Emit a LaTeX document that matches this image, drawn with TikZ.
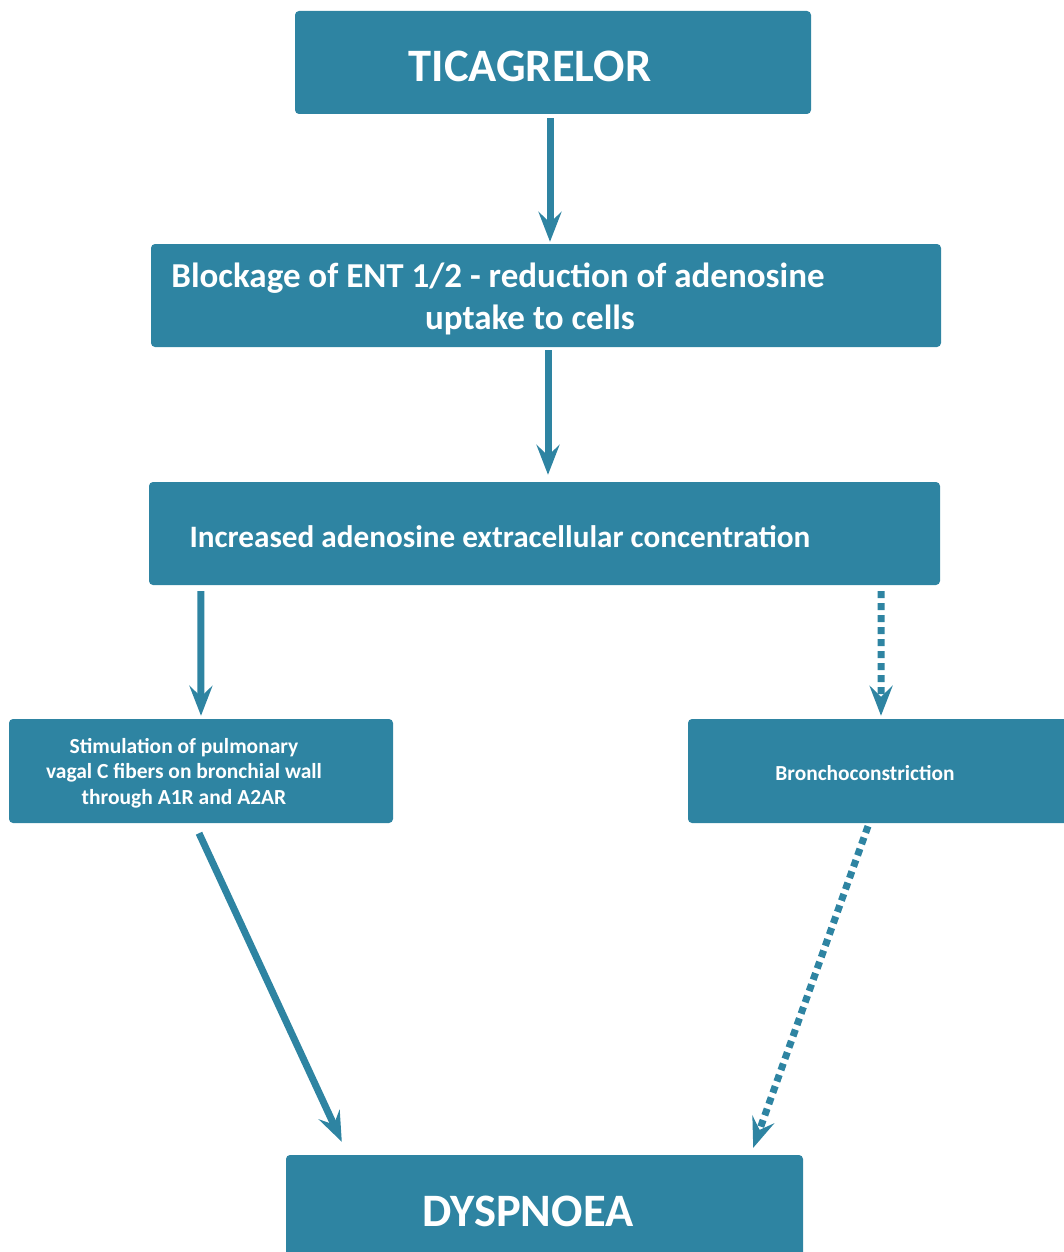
\documentclass[tikz,border=0pt]{standalone}
\usepackage{fontspec}
\setmainfont{Carlito}
\usetikzlibrary{arrows.meta}
\definecolor{teal}{RGB}{46,132,162}
\tikzset{
  box/.style={fill=teal, draw=none, rounded corners=4pt, inner sep=0pt},
  txt/.style={text=white, font=\bfseries, inner sep=0pt},
  arr/.style={draw=teal, line width=7pt, -{Stealth[length=30pt,width=23pt,inset=11pt]}},
  dotarr/.style={arr, dash pattern=on 7pt off 5pt}
}
\begin{document}
\begin{tikzpicture}[x=1pt,y=-1pt]
\useasboundingbox (0,0) rectangle (1064,1252);
\clip (0,0) rectangle (1064,1252);
\node[box, minimum width=516pt, minimum height=103pt] (t) at (553,62.5) {};
\node[txt, font=\bfseries\fontsize{46.5}{54}\selectfont] (tt) at (530,66) {TICAGRELOR};
\node[box, minimum width=790pt, minimum height=103pt] (b) at (546,295.5) {};
\node[txt, font=\bfseries\fontsize{35}{42}\selectfont] (ba) at (498,278) {Blockage of ENT 1/2 - reduction of adenosine};
\node[txt, font=\bfseries\fontsize{35}{42}\selectfont] (bb) at (530,320) {uptake to cells};
\node[box, minimum width=791pt, minimum height=103pt] (c) at (544.5,533.5) {};
\node[txt, font=\bfseries\fontsize{31.2}{37}\selectfont] (ct) at (500,537) {Increased adenosine extracellular concentration};
\node[box, minimum width=384pt, minimum height=104pt] (s) at (201,771) {};
\node[txt, align=center, font=\bfseries\fontsize{21.5}{25.5}\selectfont] (st) at (184,773) {Stimulation of pulmonary\\vagal C fibers on bronchial wall\\through A1R and A2AR};
\node[box, minimum width=384pt, minimum height=104pt] (r) at (880,771) {};
\node[txt, font=\bfseries\fontsize{21.4}{26}\selectfont] (rt) at (865,773) {Bronchoconstriction};
\node[box, minimum width=517pt, minimum height=103pt] (d) at (544.5,1206.5) {};
\node[txt, font=\bfseries\fontsize{46.5}{54}\selectfont] (dt) at (528,1211) {DYSPNOEA};
\draw[arr] ([xshift=-3pt,yshift=-4pt]t.south) -- ([xshift=4pt,yshift=2pt]b.north);
\draw[arr] ([xshift=2pt,yshift=-3pt]b.south) -- ([xshift=3.5pt,yshift=7pt]c.north);
\draw[arr] ([xshift=52pt,yshift=-6pt]c.south west) -- ([yshift=3pt]s.north);
\draw[dotarr] ([xshift=-59pt,yshift=-6pt]c.south east) -- ([xshift=1pt,yshift=3pt]r.north);
\draw[arr] ([xshift=-2pt,yshift=-10pt]s.south) -- ([xshift=56pt,yshift=13pt]d.north west);
\draw[dotarr] ([xshift=-12pt,yshift=-3pt]r.south) -- ([xshift=-50pt,yshift=7pt]d.north east);
\end{tikzpicture}
\end{document}
